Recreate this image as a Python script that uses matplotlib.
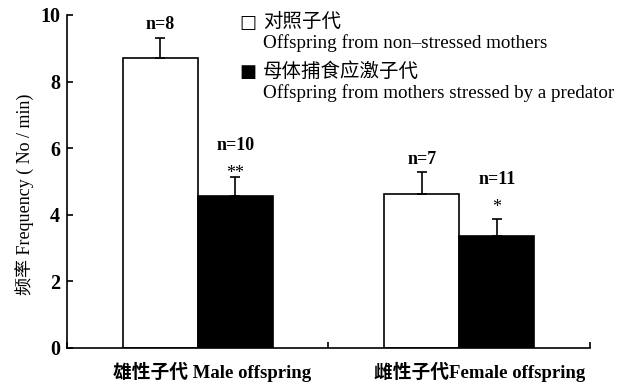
import matplotlib
matplotlib.use("Agg")
import matplotlib.pyplot as plt
import numpy as np

# Group data: mean call frequency and SE (upper bar only)
groups = ["雄性子代 Male offspring", "雌性子代Female offspring"]
control_mean = [8.7, 4.62]
control_se = [0.62, 0.65]
stressed_mean = [4.57, 3.36]
stressed_se = [0.55, 0.52]
control_n = ["n=8", "n=7"]
stressed_n = ["n=10", "n=11"]
stressed_sig = ["**", "*"]
legend_cn = ["对照子代", "母体捕食应激子代"]
legend_en = ["Offspring from non\u2013stressed mothers",
             "Offspring from mothers stressed by a predator"]
yticks = [0, 2, 4, 6, 8, 10]

serif = "Liberation Serif"
mixed = ["Liberation Serif", "Noto Sans CJK SC"]
PX = 0.72  # points per pixel at 100 dpi

fig = plt.figure(figsize=(6.23, 3.87), dpi=100)
ax = fig.add_axes([0.1075, 0.1008, 0.8395, 0.8605])

centers = np.array([0.5, 1.5])
w = 0.287
err_kw = dict(capsize=3.6, capthick=1.2, elinewidth=1.2, ecolor="black")
ax.bar(centers - w / 2, control_mean, w, color="white", edgecolor="black",
       linewidth=1.2, yerr=[np.zeros(2), control_se], error_kw=err_kw, zorder=2)
ax.bar(centers + w / 2, stressed_mean, w, color="black", edgecolor="black",
       linewidth=1.2, yerr=[np.zeros(2), stressed_se], error_kw=err_kw, zorder=2)

star_base = [-1, 7]   # baseline of the significance marks above the cap (px)
n_above = [32, 39]    # centre of the n label above the cap (px)
for i in range(2):
    top_c = control_mean[i] + control_se[i]
    ax.annotate(control_n[i], (centers[i] - w / 2, top_c), xytext=(0, 13 * PX),
                textcoords="offset points", ha="center", va="center",
                fontsize=13, fontweight="bold", family=serif)
    top_s = stressed_mean[i] + stressed_se[i]
    ax.annotate(stressed_sig[i], (centers[i] + w / 2, top_s),
                xytext=(0, star_base[i] * PX), textcoords="offset points",
                ha="center", va="baseline", fontsize=13, family=serif)
    ax.annotate(stressed_n[i], (centers[i] + w / 2, top_s),
                xytext=(0, n_above[i] * PX), textcoords="offset points",
                ha="center", va="center", fontsize=13, fontweight="bold",
                family=serif)

ax.set_xlim(0, 2)
ax.set_ylim(0, 10)
ax.set_yticks(yticks)
ax.set_yticklabels([str(t) for t in yticks], fontsize=14.5, fontweight="bold",
                   family=serif)
ax.set_xticks([0, 1, 2])
ax.set_xticklabels([])
ax.tick_params(direction="in", length=4, width=1.2, pad=5)
for s in ["top", "right"]:
    ax.spines[s].set_visible(False)
for s in ["left", "bottom"]:
    ax.spines[s].set_linewidth(1.2)

# Group labels under the axis
label_x = [0.554, 1.579]
for i, g in enumerate(groups):
    ax.annotate(g, (label_x[i], 0), xytext=(0, -24 * PX), textcoords="offset points",
                ha="center", va="center", fontsize=13.5, fontweight="bold",
                family=mixed, annotation_clip=False)

fig.text(25 / 623, 1 - 194 / 387, "频率 Frequency ( No / min)", fontsize=13,
         family=mixed, rotation=90, ha="center", va="center")

# Legend drawn as text entries with square markers
lx, tx = 248 / 623, 263 / 623
fig.text(lx, 1 - 23 / 387, "\u25a1", fontsize=13, family="DejaVu Sans",
         ha="center", va="center")
fig.text(tx, 1 - 22 / 387, legend_cn[0], fontsize=14, family=mixed,
         ha="left", va="center")
fig.text(tx, 1 - 48 / 387, legend_en[0], fontsize=13.7, family=serif,
         ha="left", va="baseline")
fig.text(lx, 1 - 72 / 387, "\u25a0", fontsize=13, family="DejaVu Sans",
         ha="center", va="center")
fig.text(tx, 1 - 72 / 387, legend_cn[1], fontsize=14, family=mixed,
         ha="left", va="center")
fig.text(tx, 1 - 98 / 387, legend_en[1], fontsize=13.7, family=serif,
         ha="left", va="baseline")

fig.savefig("out.png", dpi=100)
